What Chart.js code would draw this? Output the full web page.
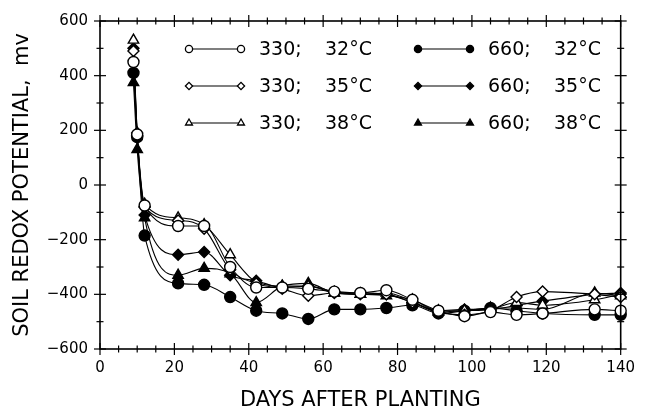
<!DOCTYPE html>
<html>
<head>
<meta charset="utf-8">
<script src="https://cdn.jsdelivr.net/npm/chart.js@4/dist/chart.umd.min.js"></script>
<style>
  html, body { margin: 0; padding: 0; background: #fff; }
  #wrap { width: 645px; height: 413px; }
</style>
</head>
<body>
<div id="wrap"><canvas id="redoxChart" width="645" height="413"></canvas></div>
<script>
// Sampling days
const days = [9, 10, 12, 21, 28, 35, 42, 49, 56, 63, 70, 77, 84, 91, 98, 105, 112, 119, 133, 140];

// Soil redox potential (mV)
const open32   = [450, 185, -75, -150, -150, -300, -375, -375, -380, -390, -395, -385, -420, -460, -480, -465, -475, -470, -455, -460];
const open35   = [490, 180, -80, -130, -160, -310, -360, -380, -405, -395, -395, -400, -430, -465, -475, -460, -410, -390, -400, -410];
const open38   = [530, 190, -70, -120, -145, -255, -355, -370, -370, -395, -400, -395, -425, -465, -460, -455, -430, -440, -420, -400];
const filled32 = [410, 175, -185, -360, -365, -410, -460, -470, -490, -455, -455, -450, -440, -470, -460, -450, -460, -470, -475, -475];
const filled35 = [500, 190, -110, -255, -245, -330, -350, -375, -370, -390, -400, -400, -430, -460, -455, -455, -440, -425, -400, -395];
const filled38 = [375, 130, -120, -330, -305, -325, -430, -370, -360, -395, -400, -405, -420, -460, -460, -450, -450, -455, -395, -405];

const seriesLabels = ['330;  32°C', '330;  35°C', '330;  38°C', '660;  32°C', '660;  35°C', '660;  38°C'];
const xTicks = [0, 20, 40, 60, 80, 100, 120, 140];
const yTicks = [-600, -400, -200, 0, 200, 400, 600];

const FONT = "'DejaVu Sans', sans-serif";

function makeSet(label, values, style, filled) {
    return {
        label,
        data: days.map((d, i) => ({ x: d, y: values[i] })),
        borderColor: '#000',
        borderWidth: 1.1,
        pointStyle: style,
        pointRadius: style === 'triangle' ? 6 : 5.5,
        pointBorderWidth: 1.4,
        pointBorderColor: '#000',
        pointBackgroundColor: filled ? '#000' : '#fff',
        cubicInterpolationMode: 'monotone',
        clip: false
    };
}

// Frame with ticks crossing all four sides
const frameTicks = {
    id: 'frameTicks',
    afterDatasetsDraw(chart) {
        const { ctx, chartArea: a, scales: { x, y } } = chart;
        ctx.save();
        ctx.strokeStyle = '#000';
        ctx.lineWidth = 1.6;
        ctx.strokeRect(a.left, a.top, a.right - a.left, a.bottom - a.top);
        ctx.lineWidth = 1.2;
        const seg = (x1, y1, x2, y2) => { ctx.beginPath(); ctx.moveTo(x1, y1); ctx.lineTo(x2, y2); ctx.stroke(); };
        for (let v = 0; v <= 140; v += 5) {
            const px = x.getPixelForValue(v);
            const h = v % 20 === 0 ? 6 : 3.5;
            seg(px, a.bottom - h, px, a.bottom + h);
            seg(px, a.top - h, px, a.top + h);
        }
        for (let v = -600; v <= 600; v += 100) {
            const py = y.getPixelForValue(v);
            const h = v % 200 === 0 ? 6 : 3.5;
            seg(a.left - h, py, a.left + h, py);
            seg(a.right - h, py, a.right + h, py);
        }
        ctx.restore();
    }
};

// Legend drawn inside the plot: marker — marker  label
const markerLegend = {
    id: 'markerLegend',
    afterDatasetsDraw(chart) {
        const ctx = chart.ctx;
        ctx.save();
        chart.data.datasets.forEach((ds, i) => {
            const col = Math.floor(i / 3), row = i % 3;
            const x0 = col ? 418 : 189;
            const x1 = x0 + 52;
            const yy = 49 + row * 37;
            ctx.strokeStyle = '#000';
            ctx.lineWidth = 1.1;
            ctx.beginPath();
            ctx.moveTo(x0, yy);
            ctx.lineTo(x1, yy);
            ctx.stroke();
            ctx.fillStyle = ds.pointBackgroundColor;
            ctx.lineWidth = 1.3;
            [x0, x1].forEach(px => {
                Chart.helpers.drawPoint(ctx, {
                    pointStyle: ds.pointStyle,
                    radius: ds.pointStyle === 'triangle' ? 4 : 3.6,
                    rotation: 0,
                    borderWidth: 1.3
                }, px, yy);
            });
            const parts = ds.label.split(/\s+/);
            ctx.fillStyle = '#000';
            ctx.font = '19px ' + FONT;
            ctx.textBaseline = 'middle';
            ctx.textAlign = 'left';
            ctx.fillText(parts[0], x1 + 18, yy + 1);
            ctx.fillText(parts[1], x1 + 84, yy + 1);
        });
        ctx.restore();
    }
};

const ctx = document.getElementById('redoxChart');
new Chart(ctx, {
    type: 'line',
    data: {
        datasets: [
            makeSet(seriesLabels[0], open32, 'circle', false),
            makeSet(seriesLabels[1], open35, 'rectRot', false),
            makeSet(seriesLabels[2], open38, 'triangle', false),
            makeSet(seriesLabels[3], filled32, 'circle', true),
            makeSet(seriesLabels[4], filled35, 'rectRot', true),
            makeSet(seriesLabels[5], filled38, 'triangle', true)
        ]
    },
    options: {
        responsive: false,
        animation: false,
        events: [],
        layout: { padding: { left: 8, right: 14, top: 20, bottom: 0 } },
        plugins: { legend: { display: false }, tooltip: { enabled: false } },
        scales: {
            x: {
                type: 'linear',
                min: 0,
                max: 140,
                afterBuildTicks: s => { s.ticks = xTicks.map(v => ({ value: v })); },
                afterFit: s => { s.height = 64; },
                grid: { display: false, drawTicks: false },
                border: { display: false },
                ticks: { color: '#000', padding: 10, font: { family: FONT, size: 15 } },
                title: {
                    display: true,
                    text: 'DAYS AFTER PLANTING',
                    color: '#000',
                    font: { family: FONT, size: 21 },
                    padding: { top: 0, bottom: 0 }
                }
            },
            y: {
                min: -600,
                max: 600,
                afterBuildTicks: s => { s.ticks = yTicks.map(v => ({ value: v })); },
                afterFit: s => { s.width = 92; },
                grid: { display: false, drawTicks: false },
                border: { display: false },
                ticks: {
                    color: '#000',
                    padding: 12,
                    font: { family: FONT, size: 15 },
                    callback: v => v < 0 ? '\u2212' + Math.abs(v) : String(v)
                },
                title: {
                    display: true,
                    text: 'SOIL REDOX POTENTIAL,  mv',
                    color: '#000',
                    font: { family: FONT, size: 21 },
                    padding: { top: 2, bottom: 0 }
                }
            }
        }
    },
    plugins: [frameTicks, markerLegend]
});
</script>
</body>
</html>
